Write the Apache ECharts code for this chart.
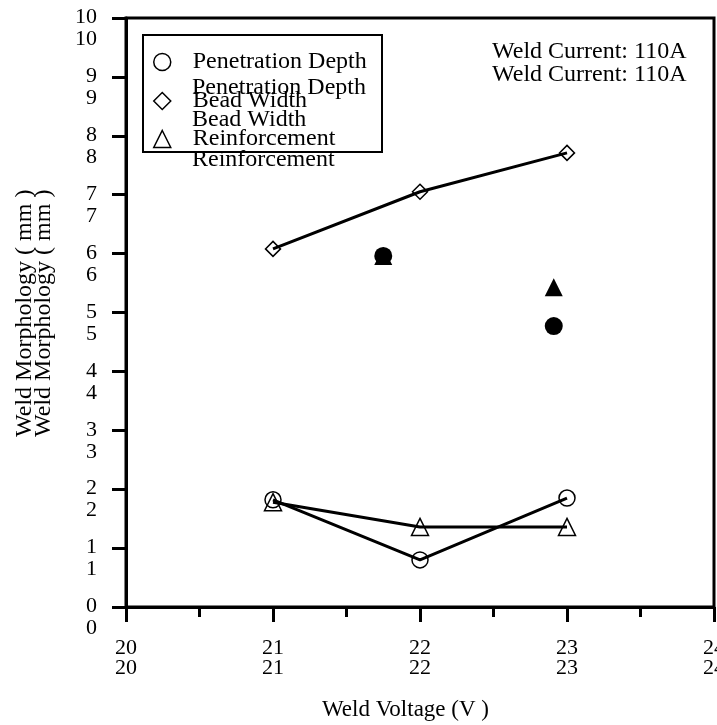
<!DOCTYPE html>
<html>
<head>
<meta charset="utf-8">
<script src="https://cdn.jsdelivr.net/npm/echarts@6/dist/echarts.min.js"></script>
<style>
  html, body { margin: 0; padding: 0; background: #fff; }
  #chart { width: 717px; height: 725px; }
</style>
</head>
<body>
<div id="chart"></div>
<script>
// weld voltage (V)
const voltage = [21, 22, 23]
const penetrationDepth = [1.82, 0.80, 1.85]
const beadWidth = [6.08, 7.05, 7.71]
const reinforcement = [1.78, 1.36, 1.36]

// loose filled markers
const filledCircles = [[21.75, 5.96], [22.91, 4.77]]
const filledTriangles = [[21.75, 5.96], [22.91, 5.43]]

const names = ['Penetration Depth', 'Bead Width', 'Reinforcement']

const FONT = '"Liberation Serif", "Times New Roman", serif'

const chart = echarts.init(document.getElementById('chart'))

const hollow = {
  color: 'rgba(255,255,255,0)',
  borderColor: '#000',
  borderWidth: 1.5
}

const lineSeries = (name, data, symbol, size) => ({
  name,
  type: 'line',
  data: voltage.map((v, i) => [v, data[i]]),
  symbol,
  symbolSize: size,
  itemStyle: hollow,
  lineStyle: { color: '#000', width: 3 },
  z: 3
})

const legendItem = (name, icon, top) => ({
  data: [{ name, icon }],
  left: 153,
  top,
  itemWidth: 17,
  itemHeight: 17,
  itemGap: 0,
  padding: 0,
  itemStyle: { color: '#fff', borderColor: '#000', borderWidth: 1.5 },
  textStyle: { fontFamily: FONT, fontSize: 24, color: '#000', padding: [0, 0, 0, 17] },
  selectedMode: false
})

const txt = (text, x, y, size, extra) => ({
  type: 'text',
  x,
  y,
  ...(extra || {}),
  style: {
    text,
    fontFamily: FONT,
    fontSize: size,
    fill: '#000',
    align: 'left',
    verticalAlign: 'middle'
  }
})

const option = {
  animation: false,
  backgroundColor: '#fff',
  grid: {
    left: 126,
    right: 3,
    top: 18,
    bottom: 118,
    outerBoundsMode: 'none',
    containLabel: false,
    show: true,
    borderColor: '#000',
    borderWidth: 3
  },
  legend: [
    legendItem(names[0], 'circle', 50),
    legendItem(names[1], 'diamond', 89),
    legendItem(names[2], 'triangle', 127)
  ],
  xAxis: {
    type: 'value',
    min: 20,
    max: 24,
    interval: 1,
    axisLine: { lineStyle: { color: '#000', width: 3 } },
    axisTick: { inside: false, length: 15, lineStyle: { color: '#000', width: 3 } },
    minorTick: { show: true, splitNumber: 2, length: 10, lineStyle: { color: '#000', width: 3 } },
    splitLine: { show: false },
    axisLabel: {
      margin: 31,
      fontFamily: FONT,
      fontSize: 22,
      color: '#000',
      lineHeight: 20,
      showMinLabel: true,
      showMaxLabel: true,
      hideOverlap: false,
      formatter: v => v + '\n' + v
    }
  },
  yAxis: {
    type: 'value',
    min: 0,
    max: 10,
    interval: 1,
    axisLine: { lineStyle: { color: '#000', width: 3 } },
    axisTick: { inside: false, length: 14, lineStyle: { color: '#000', width: 3 } },
    splitLine: { show: false },
    axisLabel: {
      margin: 29,
      color: '#000',
      showMinLabel: true,
      showMaxLabel: true,
      hideOverlap: false,
      // second copy of each label sits 22px under the first
      formatter: v => '{a|' + v + '}\n{b|' + v + '}',
      rich: {
        a: { fontFamily: FONT, fontSize: 22, color: '#000', lineHeight: 43 },
        b: { fontFamily: FONT, fontSize: 22, color: '#000', lineHeight: 1 }
      }
    }
  },
  graphic: [
    {
      type: 'rect',
      shape: { x: 143, y: 35, width: 239, height: 117 },
      style: { fill: 'none', stroke: '#000', lineWidth: 2 },
      z: 1
    },
    txt('Penetration Depth', 192, 88, 24),
    txt('Bead Width', 192, 120, 24),
    txt('Reinforcement', 192, 160, 24),
    txt('Weld Current: 110A', 492, 52, 24),
    txt('Weld Current: 110A', 492, 75, 24),
    txt('Weld Voltage (V )', 322, 710, 23),
    txt('Weld Morphology ( mm )', 25, 437, 24, { rotation: Math.PI / 2 }),
    txt('Weld Morphology ( mm )', 44, 437, 24, { rotation: Math.PI / 2 })
  ],
  series: [
    lineSeries(names[0], penetrationDepth, 'circle', 16),
    lineSeries(names[1], beadWidth, 'diamond', 15),
    lineSeries(names[2], reinforcement, 'triangle', 17),
    {
      name: 'filled triangle',
      type: 'scatter',
      data: filledTriangles,
      symbol: 'triangle',
      symbolSize: 18,
      itemStyle: { color: '#000', opacity: 1 },
      z: 4
    },
    {
      name: 'filled circle',
      type: 'scatter',
      data: filledCircles,
      symbol: 'circle',
      symbolSize: 18,
      itemStyle: { color: '#000', opacity: 1 },
      z: 5
    }
  ]
}

chart.setOption(option)
</script>
</body>
</html>
